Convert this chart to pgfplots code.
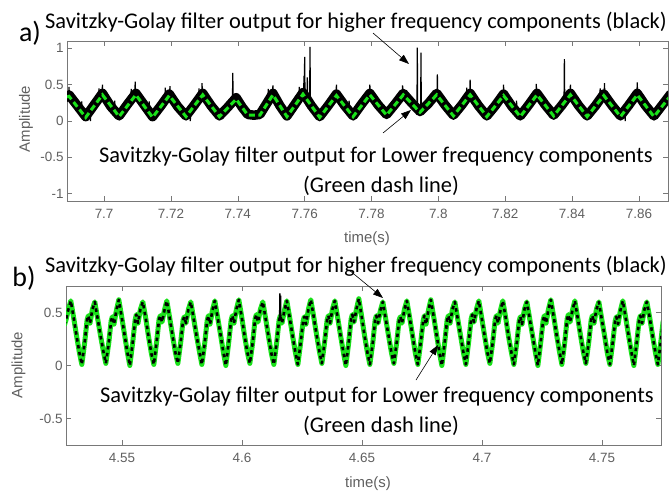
\documentclass[border=0pt]{standalone}
\usepackage{pgfplots}
\pgfplotsset{compat=1.18}
\usepackage{pgfplotstable}
\usepackage{fontspec}
\setmainfont{Carlito}
\newfontfamily\axfont{Liberation Sans}
\usetikzlibrary{arrows.meta}

\definecolor{sggreen}{RGB}{25,225,25}
\definecolor{axgray}{RGB}{120,120,120}
\definecolor{ticktext}{RGB}{95,95,95}

% ---------- panel a: 7.69 s .. 7.87 s ----------
% low-frequency component (Savitzky-Golay, long window)
\pgfplotstableread{
t v
7.6889 0.33
7.6895 0.34
7.6945 0.05
7.6995 0.36
7.7045 0.06
7.7095 0.36
7.7145 0.05
7.7195 0.35
7.7245 0.06
7.7295 0.36
7.7345 0.06
7.7395 0.30
7.7430 0.08
7.7466 0.08
7.7505 0.36
7.7547 0.06
7.7595 0.37
7.7645 0.05
7.7695 0.35
7.7745 0.06
7.7795 0.36
7.7845 0.08
7.7895 0.36
7.7945 0.12
7.7995 0.36
7.8045 0.07
7.8095 0.36
7.8145 0.06
7.8195 0.35
7.8245 0.06
7.8295 0.36
7.8345 0.07
7.8395 0.36
7.8445 0.06
7.8495 0.35
7.8545 0.06
7.8595 0.36
7.8645 0.06
7.8695 0.35
}\lowA

% high-frequency component: band centre
\pgfplotstableread{
t v
7.6885 0.32
7.6895 0.36
7.6920 0.21
7.6945 0.06
7.6970 0.22
7.6995 0.38
7.7020 0.20
7.7045 0.07
7.7070 0.23
7.7095 0.38
7.7120 0.22
7.7145 0.06
7.7170 0.21
7.7195 0.37
7.7220 0.20
7.7245 0.07
7.7270 0.22
7.7295 0.38
7.7320 0.21
7.7345 0.07
7.7370 0.19
7.7395 0.32
7.7413 0.19
7.7430 0.09
7.7448 0.08
7.7466 0.09
7.7485 0.23
7.7505 0.38
7.7526 0.21
7.7547 0.07
7.7571 0.23
7.7595 0.39
7.7620 0.21
7.7645 0.06
7.7670 0.21
7.7695 0.37
7.7720 0.21
7.7745 0.07
7.7770 0.23
7.7795 0.38
7.7820 0.22
7.7845 0.09
7.7870 0.23
7.7895 0.38
7.7920 0.25
7.7945 0.13
7.7970 0.24
7.7995 0.38
7.8020 0.22
7.8045 0.08
7.8070 0.22
7.8095 0.38
7.8120 0.21
7.8145 0.07
7.8170 0.21
7.8195 0.37
7.8220 0.20
7.8245 0.07
7.8270 0.22
7.8295 0.38
7.8320 0.22
7.8345 0.08
7.8370 0.22
7.8395 0.38
7.8420 0.21
7.8445 0.07
7.8470 0.21
7.8495 0.37
7.8520 0.21
7.8545 0.07
7.8570 0.22
7.8595 0.38
7.8620 0.21
7.8645 0.07
7.8670 0.22
7.8695 0.37
}\highA

% high-frequency component: impulsive spikes and hairs on the band
\pgfplotstableread{
t v
7.6894 0.36
7.6895 0.47
7.6896 0.36
7.6897 nan
7.6932 0.14
7.6933 0.27
7.6934 0.14
7.6935 nan
7.6958 0.14
7.6959 0.00
7.6960 0.14
7.6961 nan
7.6984 0.30
7.6985 0.45
7.6986 0.30
7.6987 nan
7.6994 0.38
7.6995 0.50
7.6996 0.38
7.6997 nan
7.7031 0.14
7.7032 0.28
7.7033 0.14
7.7034 nan
7.7080 0.30
7.7081 0.44
7.7082 0.30
7.7083 nan
7.7092 0.38
7.7093 0.54
7.7094 0.38
7.7095 nan
7.7134 0.14
7.7135 0.27
7.7136 0.14
7.7137 nan
7.7182 0.30
7.7183 0.46
7.7184 0.30
7.7185 nan
7.7196 0.37
7.7197 0.48
7.7198 0.37
7.7199 nan
7.7257 0.14
7.7258 0.00
7.7259 0.14
7.7260 nan
7.7283 0.30
7.7284 0.45
7.7285 0.30
7.7286 nan
7.7292 0.38
7.7293 0.52
7.7294 0.38
7.7295 nan
7.7384 0.30
7.7385 0.66
7.7386 0.30
7.7387 nan
7.7490 0.30
7.7491 0.44
7.7492 0.30
7.7493 nan
7.7504 0.38
7.7505 0.49
7.7506 0.38
7.7507 nan
7.7583 0.30
7.7584 0.47
7.7585 0.30
7.7586 nan
7.7597 0.39
7.7598 0.62
7.7599 0.39
7.7600 0.88
7.7601 0.39
7.7602 nan
7.7607 0.35
7.7608 0.60
7.7609 0.35
7.7610 nan
7.7615 0.35
7.7616 1.02
7.7617 0.33
7.7618 nan
7.7694 0.37
7.7695 0.50
7.7696 0.37
7.7697 nan
7.7732 0.14
7.7733 0.28
7.7734 0.14
7.7735 nan
7.7794 0.38
7.7795 0.50
7.7796 0.38
7.7797 nan
7.7892 0.38
7.7893 0.49
7.7894 0.38
7.7895 nan
7.7936 0.20
7.7937 1.01
7.7938 0.20
7.7939 nan
7.7947 0.12
7.7948 0.94
7.7949 0.12
7.7950 nan
7.7996 0.38
7.7997 0.64
7.7998 0.38
7.7999 nan
7.8084 0.30
7.8085 0.46
7.8086 0.30
7.8087 nan
7.8094 0.38
7.8095 0.57
7.8096 0.38
7.8097 nan
7.8194 0.37
7.8195 0.50
7.8196 0.37
7.8197 nan
7.8233 0.14
7.8234 0.28
7.8235 0.14
7.8236 nan
7.8292 0.38
7.8293 0.51
7.8294 0.38
7.8295 nan
7.8376 0.33
7.8377 0.85
7.8378 0.33
7.8379 nan
7.8394 0.38
7.8395 0.50
7.8396 0.38
7.8397 nan
7.8483 0.30
7.8484 0.45
7.8485 0.30
7.8486 nan
7.8496 0.37
7.8497 0.52
7.8498 0.37
7.8499 nan
7.8558 0.14
7.8559 0.00
7.8560 0.14
7.8561 nan
7.8594 0.38
7.8595 0.53
7.8596 0.38
}\spikeA

% ---------- panel b: 4.53 s .. 4.77 s ----------
\pgfplotstableread{
t v
4.5260 0.38
4.5267 0.43
4.5277 0.53
4.5287 0.61
4.5299 0.45
4.5311 0.28
4.5323 0.12
4.5333 0.01
4.5345 0.22
4.5355 0.43
4.5360 0.47
4.5367 0.40
4.5377 0.53
4.5387 0.60
4.5399 0.44
4.5411 0.28
4.5423 0.13
4.5433 0.02
4.5445 0.21
4.5455 0.42
4.5460 0.46
4.5467 0.39
4.5477 0.52
4.5487 0.62
4.5499 0.46
4.5511 0.29
4.5523 0.12
4.5533 0.00
4.5545 0.22
4.5555 0.43
4.5560 0.48
4.5567 0.40
4.5577 0.53
4.5587 0.60
4.5599 0.45
4.5611 0.27
4.5623 0.11
4.5633 0.01
4.5645 0.23
4.5655 0.44
4.5660 0.47
4.5667 0.41
4.5677 0.52
4.5687 0.61
4.5699 0.45
4.5711 0.28
4.5723 0.12
4.5733 0.02
4.5745 0.22
4.5755 0.43
4.5760 0.46
4.5767 0.40
4.5777 0.53
4.5787 0.60
4.5799 0.44
4.5811 0.28
4.5823 0.13
4.5833 0.01
4.5845 0.21
4.5855 0.42
4.5860 0.47
4.5867 0.39
4.5877 0.52
4.5887 0.61
4.5899 0.45
4.5911 0.29
4.5923 0.12
4.5933 0.00
4.5945 0.22
4.5955 0.43
4.5960 0.47
4.5967 0.40
4.5977 0.53
4.5987 0.62
4.5999 0.46
4.6011 0.28
4.6023 0.12
4.6033 0.02
4.6045 0.22
4.6055 0.44
4.6060 0.48
4.6067 0.41
4.6077 0.53
4.6087 0.60
4.6099 0.44
4.6111 0.27
4.6123 0.11
4.6133 0.01
4.6145 0.22
4.6155 0.43
4.6160 0.47
4.6167 0.40
4.6177 0.52
4.6187 0.61
4.6199 0.45
4.6211 0.28
4.6223 0.12
4.6233 0.01
4.6245 0.22
4.6255 0.42
4.6260 0.46
4.6267 0.39
4.6277 0.53
4.6287 0.62
4.6299 0.46
4.6311 0.29
4.6323 0.13
4.6333 0.02
4.6345 0.23
4.6355 0.43
4.6360 0.47
4.6367 0.40
4.6377 0.53
4.6387 0.61
4.6399 0.45
4.6411 0.28
4.6423 0.12
4.6433 0.00
4.6445 0.22
4.6455 0.44
4.6460 0.48
4.6467 0.41
4.6477 0.53
4.6487 0.63
4.6499 0.46
4.6511 0.28
4.6523 0.12
4.6533 0.01
4.6545 0.21
4.6555 0.43
4.6560 0.47
4.6567 0.40
4.6577 0.52
4.6587 0.60
4.6599 0.44
4.6611 0.28
4.6623 0.12
4.6633 0.02
4.6645 0.22
4.6655 0.43
4.6660 0.46
4.6667 0.40
4.6677 0.53
4.6687 0.61
4.6699 0.45
4.6711 0.28
4.6723 0.11
4.6733 0.01
4.6745 0.22
4.6755 0.42
4.6760 0.47
4.6767 0.39
4.6777 0.52
4.6787 0.62
4.6799 0.46
4.6811 0.29
4.6823 0.12
4.6833 0.00
4.6845 0.22
4.6855 0.43
4.6860 0.47
4.6867 0.40
4.6877 0.53
4.6887 0.60
4.6899 0.44
4.6911 0.28
4.6923 0.12
4.6933 0.01
4.6945 0.23
4.6955 0.44
4.6960 0.48
4.6967 0.41
4.6977 0.53
4.6987 0.61
4.6999 0.45
4.7011 0.28
4.7023 0.12
4.7033 0.02
4.7045 0.22
4.7055 0.43
4.7060 0.47
4.7067 0.40
4.7077 0.52
4.7087 0.61
4.7099 0.45
4.7111 0.27
4.7123 0.12
4.7133 0.01
4.7145 0.21
4.7155 0.42
4.7160 0.46
4.7167 0.39
4.7177 0.53
4.7187 0.60
4.7199 0.44
4.7211 0.28
4.7223 0.12
4.7233 0.00
4.7245 0.22
4.7255 0.43
4.7260 0.47
4.7267 0.40
4.7277 0.53
4.7287 0.62
4.7299 0.46
4.7311 0.29
4.7323 0.13
4.7333 0.01
4.7345 0.22
4.7355 0.44
4.7360 0.48
4.7367 0.41
4.7377 0.52
4.7387 0.61
4.7399 0.45
4.7411 0.28
4.7423 0.12
4.7433 0.02
4.7445 0.22
4.7455 0.43
4.7460 0.47
4.7467 0.40
4.7477 0.53
4.7487 0.60
4.7499 0.44
4.7511 0.28
4.7523 0.11
4.7533 0.01
4.7545 0.22
4.7555 0.42
4.7560 0.46
4.7567 0.39
4.7577 0.52
4.7587 0.61
4.7599 0.45
4.7611 0.28
4.7623 0.12
4.7633 0.00
4.7645 0.22
4.7655 0.43
4.7660 0.47
4.7667 0.40
4.7677 0.53
4.7687 0.60
4.7699 0.45
4.7711 0.28
4.7723 0.12
4.7733 0.01
4.7745 0.22
4.7755 0.42
}\waveB

\pgfplotstableread{
t v
4.6157 0.44
4.6158 0.68
4.6160 0.45
4.6161 0.66
4.6162 0.46
}\spikeB

\pgfplotsset{
  matlabaxis/.style={
    scale only axis, anchor=south west, clip=true,
    axis line style={draw=axgray, line width=0.8bp},
    tick style={draw=axgray, line width=0.6bp},
    major tick length=5bp,
    tick align=inside, xtick pos=both, ytick pos=both,
    tick label style={font=\axfont\fontsize{13.5}{14}\selectfont, text=ticktext},
    xticklabel style={yshift=-5bp},
    /pgf/number format/assume math mode=true,
    unbounded coords=jump,
  },
}
\tikzset{
  sgtext/.style={font=\fontsize{22.5}{27}\selectfont, anchor=base west, inner sep=0pt},
  axlabel/.style={font=\axfont\fontsize{15}{18}\selectfont, text=ticktext, inner sep=0pt},
  panel/.style={font=\fontsize{28}{32}\selectfont, inner sep=0pt},
  note/.style={line width=0.6bp, -{Triangle[length=10bp,width=7bp]}},
}

\begin{document}
\begin{tikzpicture}
\useasboundingbox (0,0) rectangle (672bp,-493bp);

% ---------------- panel a ----------------
\begin{axis}[matlabaxis,
  at={(67bp,-201bp)}, width=601bp, height=160bp,
  xmin=7.6889, xmax=7.8687, ymin=-1.1, ymax=1.1,
  xtick={7.70,7.72,7.74,7.76,7.78,7.80,7.82,7.84,7.86},
  xticklabels={7.7,7.72,7.74,7.76,7.78,7.8,7.82,7.84,7.86},
  ytick={-1,-0.5,0,0.5,1},
  yticklabels={-1,-0.5,0,0.5,1},
]
\addplot[black, line width=9.5bp, line join=round, line cap=round] table[x=t,y=v] {\highA};
\addplot[black, line width=1.2bp] table[x=t,y=v] {\spikeA};
\addplot[sggreen, line width=3bp, dash pattern=on 6bp off 3.5bp] table[x=t,y=v] {\lowA};
\end{axis}

% ---------------- panel b ----------------
\begin{axis}[matlabaxis,
  at={(66bp,-445bp)}, width=595bp, height=159bp,
  xmin=4.5267, xmax=4.7746, ymin=-0.75, ymax=0.75,
  xtick={4.55,4.60,4.65,4.70,4.75},
  xticklabels={4.55,4.6,4.65,4.7,4.75},
  ytick={-0.5,0,0.5},
  yticklabels={-0.5,0,0.5},
]
\addplot[sggreen, line width=5bp, line join=round] table[x=t,y=v] {\waveB};
\addplot[black, line width=2.6bp, line join=round, dash pattern=on 3.5bp off 3.5bp] table[x=t,y=v] {\waveB};
\addplot[black, line width=1.4bp] table[x=t,y=v] {\spikeB};
\end{axis}

% ---------------- annotations ----------------
\node[panel] at (30bp,-33bp) {a)};
\node[sgtext] at (45bp,-28bp) {Savitzky-Golay filter output for higher frequency components (black)};
\node[sgtext] at (99bp,-162bp) {Savitzky-Golay filter output for Lower frequency components};
\node[sgtext] at (303bp,-192bp) {(Green dash line)};
\draw[note] (373bp,-33bp) -- (409bp,-64bp);
\draw[note] (383bp,-133bp) -- (411bp,-110bp);
\node[axlabel, rotate=90] at (26bp,-119bp) {Amplitude};
\node[axlabel] at (367bp,-239bp) {time(s)};

\node[panel] at (24bp,-278bp) {b)};
\node[sgtext] at (45bp,-272bp) {Savitzky-Golay filter output for higher frequency components (black)};
\node[sgtext] at (100bp,-402bp) {Savitzky-Golay filter output for Lower frequency components};
\node[sgtext] at (303bp,-432bp) {(Green dash line)};
\draw[note] (349bp,-270bp) -- (383bp,-298bp);
\draw[note] (416bp,-380bp) -- (438bp,-345bp);
\node[axlabel, rotate=90] at (18.5bp,-365bp) {Amplitude};
\node[axlabel] at (368bp,-484bp) {time(s)};
\end{tikzpicture}
\end{document}
